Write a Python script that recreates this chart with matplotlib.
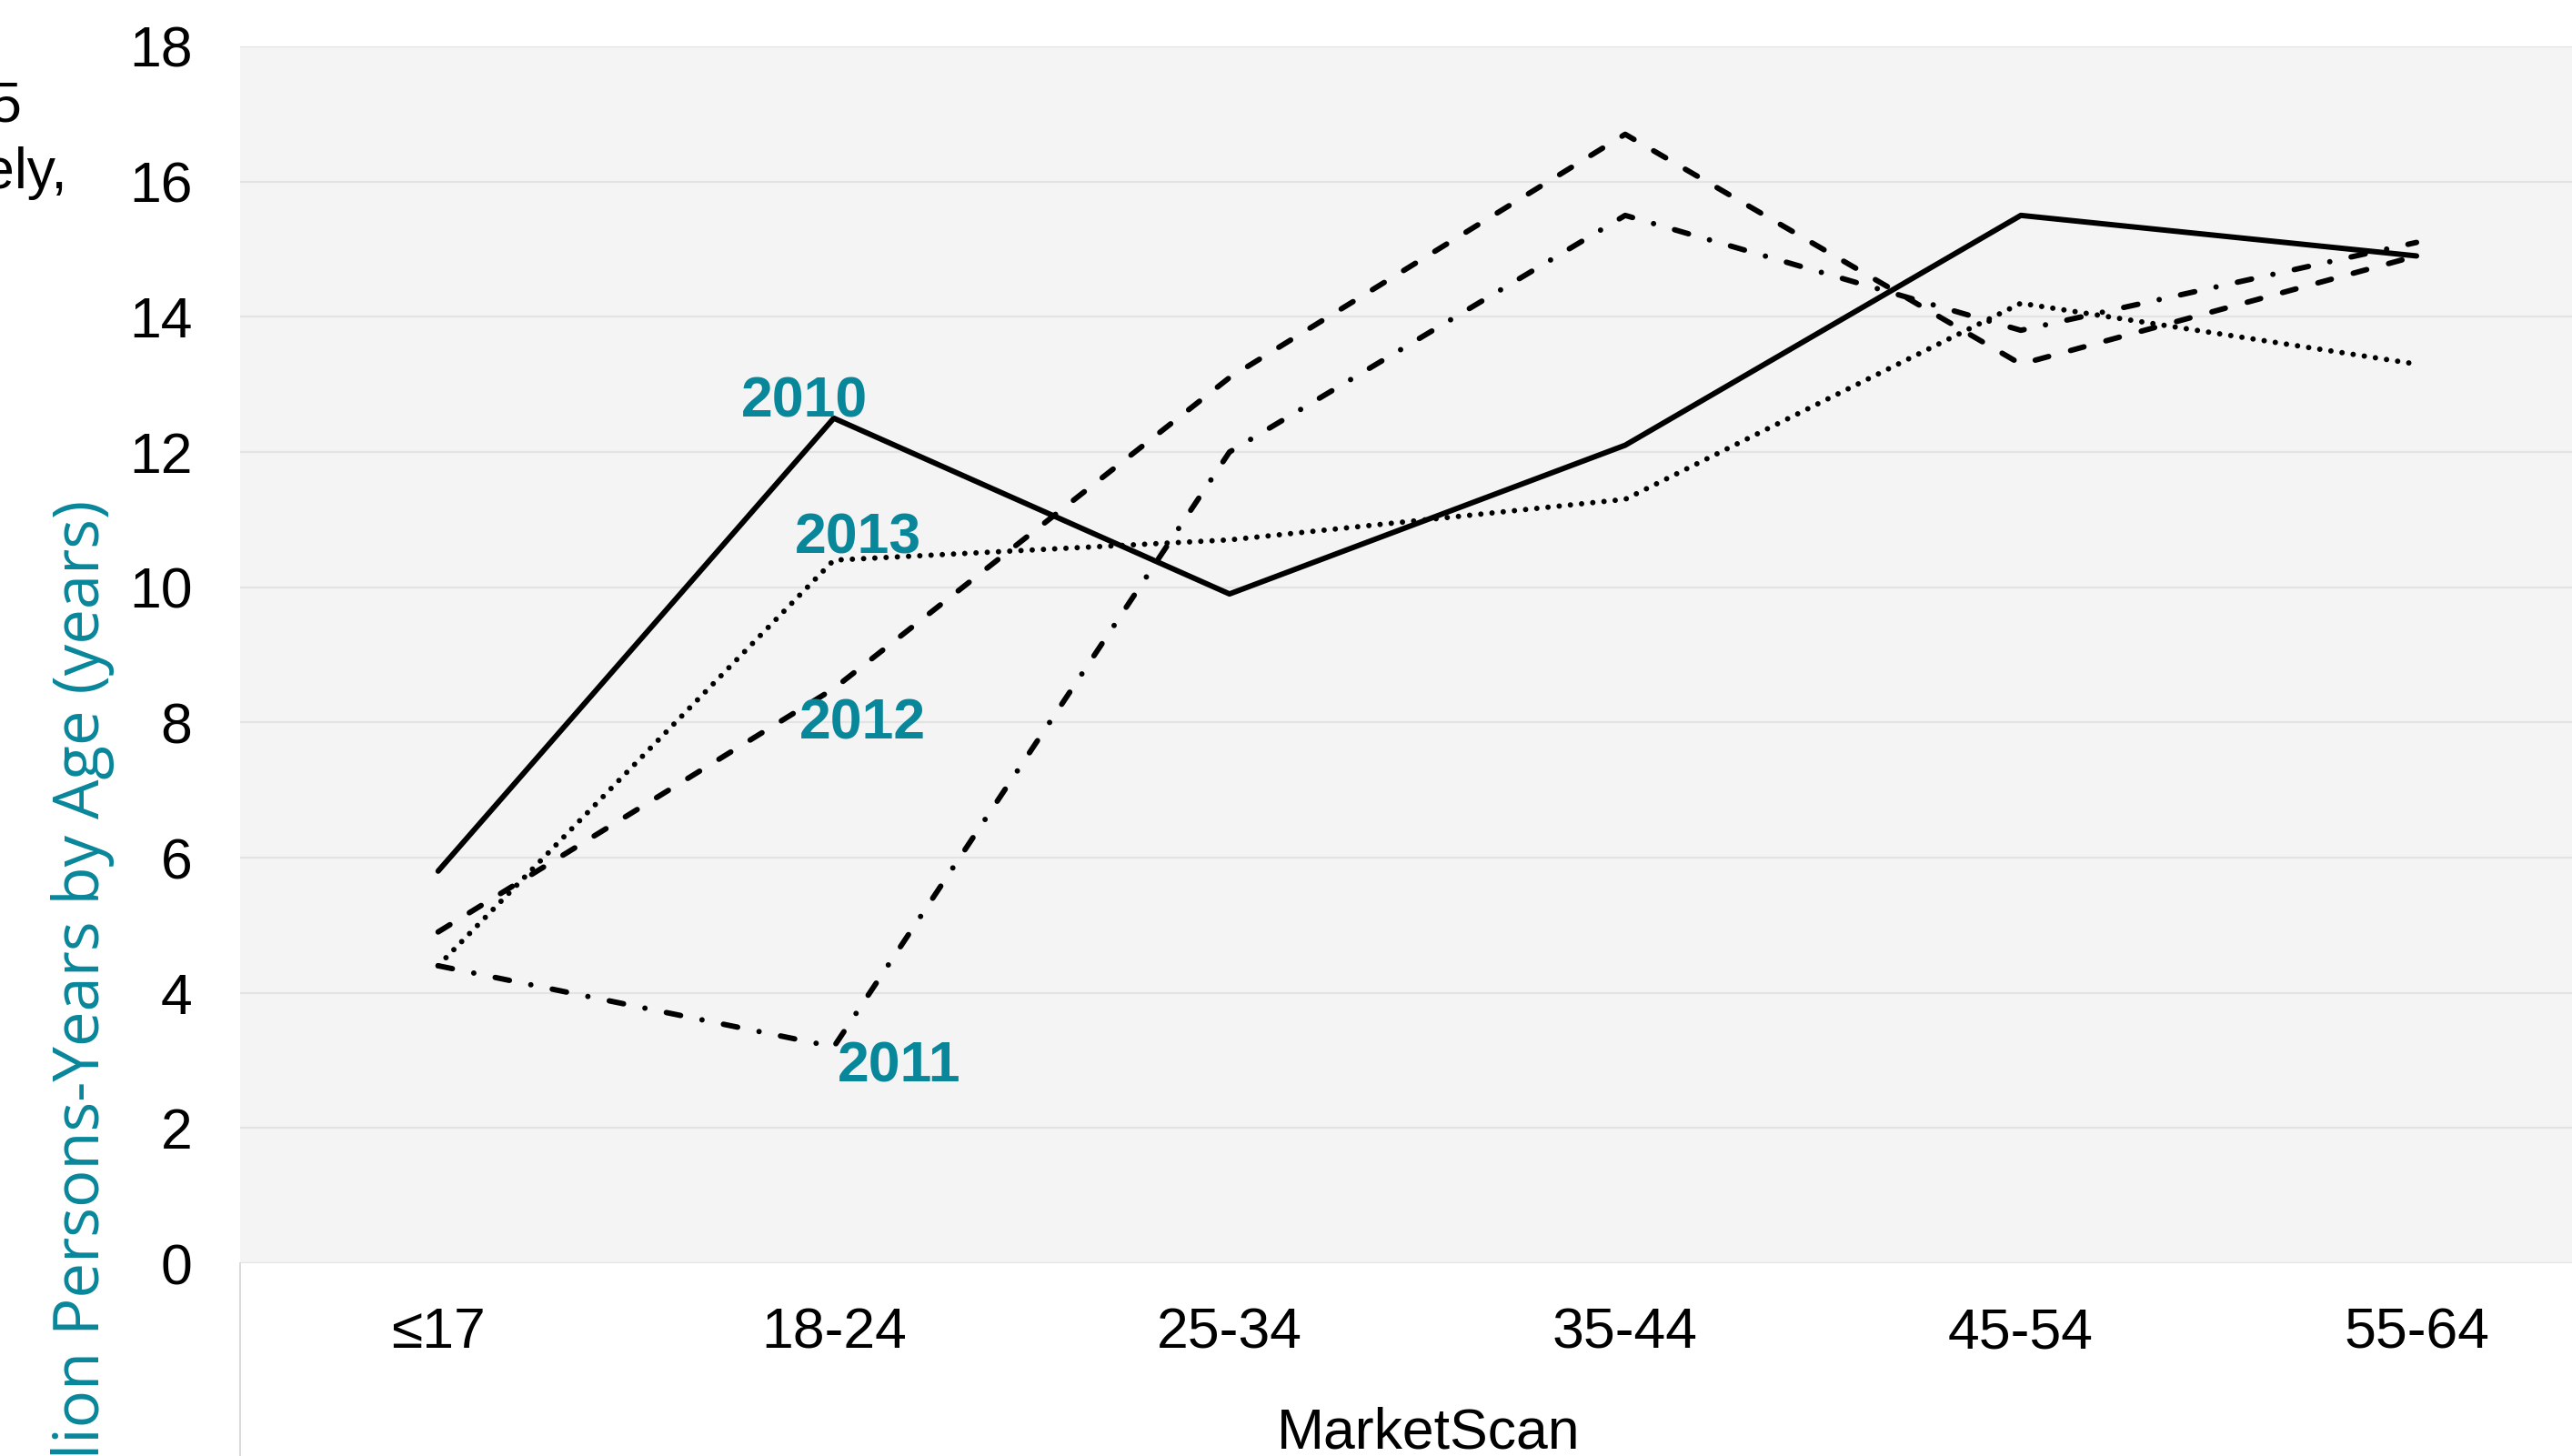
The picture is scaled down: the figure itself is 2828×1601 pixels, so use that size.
import matplotlib
matplotlib.use("Agg")
import matplotlib.pyplot as plt

# age bands on the category axis
age_groups = ["\u226417", "18-24", "25-34", "35-44", "45-54", "55-64"]

# rate per million persons-years, one series per year
rate_2010 = [5.8, 12.5, 9.9, 12.1, 15.5, 14.9]
rate_2011 = [4.4, 3.2, 12.0, 15.5, 13.8, 15.1]
rate_2012 = [4.9, 8.5, 13.1, 16.7, 13.3, 14.9]
rate_2013 = [4.4, 10.4, 10.7, 11.3, 14.2, 13.3]

y_ticks = [0, 2, 4, 6, 8, 10, 12, 14, 16, 18]
group_name = "MarketScan"
y_title = "Incidence per Million Persons-Years by Age (years)"

TEAL = "#08869A"
W, H = 2828, 1601

plt.rcParams["font.family"] = ["Liberation Sans", "DejaVu Sans"]
plt.rcParams["lines.scale_dashes"] = False

fig = plt.figure(figsize=(W / 100, H / 100), dpi=100)
fig.patch.set_facecolor("white")

ax = fig.add_axes([264.2 / W, 212 / H, 2610.4 / W, 1338 / H])
ax.set_facecolor("#f4f4f4")

x = list(range(len(age_groups)))
common = dict(color="black", lw=4.3, solid_capstyle="round", dash_capstyle="round",
              solid_joinstyle="round", dash_joinstyle="round", zorder=3)

ax.plot(x, rate_2010, ls="-", **common)
ax.plot(x, rate_2011, ls=(0, (11.5, 17.3, 0.01, 17.3)), **common)
ax.plot(x, rate_2012, ls=(0, (11.0, 18.0)), **common)
ax.plot(x, rate_2013, ls=(0, (0.01, 8.9)), **common)

# year labels sit next to the 18-24 points
lbl = dict(color=TEAL, fontsize=45, fontweight="bold", ha="center", va="center", zorder=5)
ax.annotate("2010", (1, rate_2010[1]), xytext=(-23, 13), textcoords="offset points", **lbl)
ax.annotate("2013", (1, rate_2013[1]), xytext=(19, 17), textcoords="offset points", **lbl)
ax.annotate("2012", (1, rate_2012[1]), xytext=(23, -28), textcoords="offset points", **lbl)
ax.annotate("2011", (1, rate_2011[1]), xytext=(52, -16), textcoords="offset points", **lbl)

ax.set_xlim(-0.5, len(age_groups) - 0.5)
ax.set_ylim(0, 18)
ax.set_yticks(y_ticks)
ax.set_xticks(x)
ax.set_xticklabels(age_groups)
ax.tick_params(axis="both", length=0, labelsize=45)
ax.tick_params(axis="y", pad=38)
ax.tick_params(axis="x", pad=34)

ax.grid(axis="y", color="#e3e3e3", lw=1.6, zorder=1)
ax.set_axisbelow(True)
for s in ax.spines.values():
    s.set_visible(False)

# divider of the group level under the category axis
ax.plot([0, 0], [0, -0.5], transform=ax.transAxes, color="#dadada", lw=1.4, clip_on=False)

fig.text(1571 / W, 1 - 1592 / H, group_name, fontsize=45, ha="center", va="baseline")

fig.text(91 / W, 1 - 550 / H, y_title, rotation=90, ha="center", va="top",
         fontsize=49.5, color=TEAL, family=["Open Sans", "DejaVu Sans"])

# tail of the paragraph to the left of the chart
fig.text(23 / W, 1 - 133 / H, "5", fontsize=45, ha="right", va="baseline")
fig.text(74 / W, 1 - 207 / H, "respectively,", fontsize=45, ha="right", va="baseline")

fig.savefig("out.png", dpi=100)
